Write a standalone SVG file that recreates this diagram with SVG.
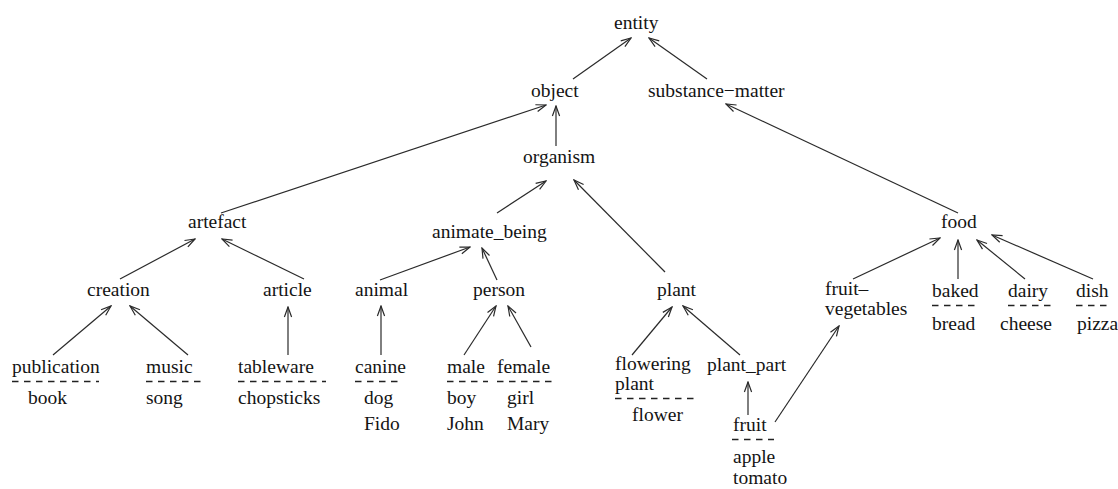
<svg xmlns="http://www.w3.org/2000/svg" width="1118" height="489" viewBox="0 0 1118 489">
  <defs>
    <style>
      text { font-family: "Liberation Serif", "Times New Roman", serif; font-size: 19.5px; fill: #141414; }
      .edge { stroke: #2a2a2a; stroke-width: 1.2; fill: none; marker-end: url(#head); }
      .inst { stroke: #222; stroke-width: 1.3; stroke-dasharray: 6.5 5.5; fill: none; }
    </style>
    <marker id="head" viewBox="-11 -5 12 10" refX="0" refY="0" markerWidth="12" markerHeight="10" markerUnits="userSpaceOnUse" orient="auto">
      <path d="M-10,-3.6 L0,0 L-10,3.6" fill="none" stroke="#2a2a2a" stroke-width="1.2"/>
    </marker>
  </defs>
  <rect width="1118" height="489" fill="#fff"/>

  <!-- is-a links: child to parent -->
  <g id="connectors">
    <line class="edge" x1="573" y1="79" x2="631" y2="38"/>
    <line class="edge" x1="707" y1="79" x2="649" y2="38"/>
    <line class="edge" x1="556" y1="146" x2="556" y2="106"/>
    <line class="edge" x1="221" y1="213" x2="546" y2="105"/>
    <line class="edge" x1="497" y1="213" x2="546" y2="181"/>
    <line class="edge" x1="665" y1="272" x2="574" y2="180"/>
    <line class="edge" x1="958" y1="213" x2="726" y2="104"/>
    <line class="edge" x1="120" y1="279" x2="195" y2="239"/>
    <line class="edge" x1="304" y1="279" x2="222" y2="239"/>
    <line class="edge" x1="380" y1="280" x2="470" y2="247"/>
    <line class="edge" x1="497" y1="280" x2="482" y2="248"/>
    <line class="edge" x1="853" y1="279" x2="940" y2="238"/>
    <line class="edge" x1="958" y1="279" x2="958" y2="240"/>
    <line class="edge" x1="1025" y1="279" x2="977" y2="240"/>
    <line class="edge" x1="1093" y1="279" x2="992" y2="235"/>
    <line class="edge" x1="53" y1="355" x2="111" y2="306"/>
    <line class="edge" x1="188" y1="355" x2="130" y2="306"/>
    <line class="edge" x1="288" y1="355" x2="288" y2="307"/>
    <line class="edge" x1="381" y1="355" x2="381" y2="306"/>
    <line class="edge" x1="464" y1="355" x2="496" y2="306"/>
    <line class="edge" x1="531" y1="347" x2="508" y2="306"/>
    <line class="edge" x1="632" y1="355" x2="672" y2="307"/>
    <line class="edge" x1="740" y1="355" x2="683" y2="306"/>
    <line class="edge" x1="748" y1="415" x2="748" y2="382"/>
    <line class="edge" x1="775" y1="422" x2="839" y2="326"/>
  </g>

  <g id="entity"><text x="614" y="29">entity</text></g>
  <g id="object"><text x="531" y="97">object</text></g>
  <g id="substance-matter"><text x="648" y="97">substance−matter</text></g>
  <g id="organism"><text x="523" y="163">organism</text></g>
  <g id="artefact"><text x="188" y="228">artefact</text></g>
  <g id="animate_being"><text x="432" y="238">animate_being</text></g>
  <g id="food"><text x="941" y="228">food</text></g>

  <g id="creation"><text x="87" y="296">creation</text></g>
  <g id="article"><text x="263" y="296">article</text></g>
  <g id="animal"><text x="355" y="296">animal</text></g>
  <g id="person"><text x="473" y="296">person</text></g>
  <g id="plant"><text x="657" y="296">plant</text></g>
  <g id="fruit-vegetables"><text x="825" y="295">fruit–</text><text x="825" y="315">vegetables</text></g>

  <!-- leaf classes with their instances below a dashed rule -->
  <g id="baked"><text x="932" y="297">baked</text><line class="inst" x1="932" y1="305.5" x2="980" y2="305.5"/><text x="932" y="330">bread</text></g>
  <g id="dairy"><text x="1008" y="297">dairy</text><line class="inst" x1="1008" y1="305.5" x2="1051" y2="305.5"/><text x="1000" y="330">cheese</text></g>
  <g id="dish"><text x="1076" y="297">dish</text><line class="inst" x1="1076" y1="305.5" x2="1110" y2="305.5"/><text x="1077" y="330">pizza</text></g>

  <g id="publication"><text x="12" y="373">publication</text><line class="inst" x1="12" y1="381.5" x2="99" y2="381.5"/><text x="28" y="404">book</text></g>
  <g id="music"><text x="146" y="373">music</text><line class="inst" x1="146" y1="381.5" x2="205" y2="381.5"/><text x="146" y="404">song</text></g>
  <g id="tableware"><text x="238" y="373">tableware</text><line class="inst" x1="238" y1="381.5" x2="326" y2="381.5"/><text x="238" y="404">chopsticks</text></g>
  <g id="canine"><text x="355" y="373">canine</text><line class="inst" x1="355" y1="381.5" x2="403" y2="381.5"/><text x="364" y="404">dog</text><text x="364" y="430">Fido</text></g>
  <g id="male"><text x="447" y="373">male</text><line class="inst" x1="447" y1="381.5" x2="488" y2="381.5"/><text x="447" y="404">boy</text><text x="447" y="430">John</text></g>
  <g id="female"><text x="497" y="373">female</text><line class="inst" x1="497" y1="381.5" x2="556" y2="381.5"/><text x="507" y="404">girl</text><text x="507" y="430">Mary</text></g>
  <g id="flowering-plant"><text x="615" y="370">flowering</text><text x="615" y="390">plant</text><line class="inst" x1="615" y1="398.5" x2="699" y2="398.5"/><text x="632" y="421">flower</text></g>
  <g id="plant_part"><text x="707" y="371">plant_part</text></g>
  <g id="fruit"><text x="733" y="431">fruit</text><line class="inst" x1="732" y1="439.5" x2="774" y2="439.5"/><text x="733" y="463">apple</text><text x="733" y="484">tomato</text></g>
</svg>
